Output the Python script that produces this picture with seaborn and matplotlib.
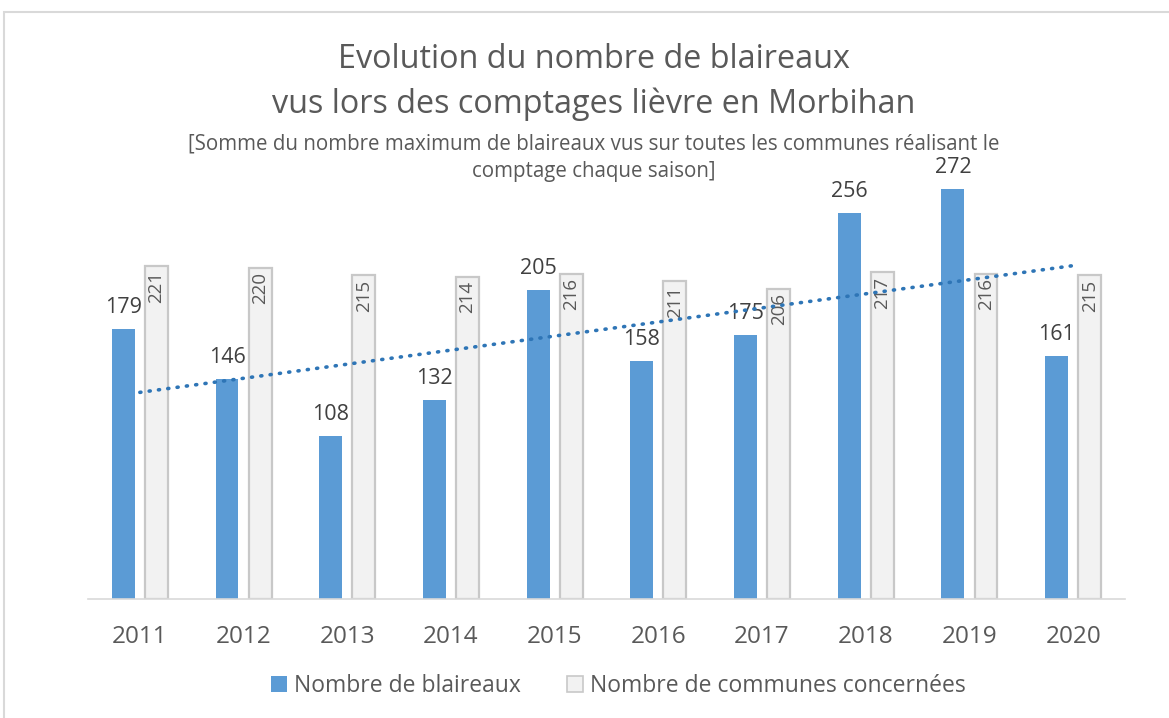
import numpy as np
import pandas as pd
import matplotlib
matplotlib.use("Agg")
import matplotlib.pyplot as plt
from matplotlib.patches import Rectangle, Patch
import seaborn as sns

years = ["2011", "2012", "2013", "2014", "2015", "2016", "2017", "2018", "2019", "2020"]
blaireaux = [179, 146, 108, 132, 205, 158, 175, 256, 272, 161]
communes = [221, 220, 215, 214, 216, 211, 206, 217, 216, 215]
series_names = ["Nombre de blaireaux", "Nombre de communes concernées"]

sns.set_theme(style="white")
plt.rcParams["font.family"] = ["Open Sans", "DejaVu Sans"]

df = pd.DataFrame({
    "annee": years * 2,
    "valeur": blaireaux + communes,
    "serie": [series_names[0]] * len(years) + [series_names[1]] * len(years),
})

BLUE = "#5B9BD5"
GREY = "#F2F2F2"
TXT = "#595959"

fig = plt.figure(figsize=(11.69, 7.18), dpi=100)
ax = fig.add_axes([88 / 1169, 119 / 718, 1037 / 1169, (599 - 147) / 718])

sns.barplot(data=df, x="annee", y="valeur", hue="serie", order=years,
            hue_order=series_names, palette=[BLUE, GREY], width=0.64, gap=0.31,
            saturation=1, legend=False, ax=ax)

blue_c, grey_c = ax.containers[0], ax.containers[1]
for p in blue_c:
    p.set_edgecolor("none")
for p in grey_c:
    p.set_edgecolor("#C8C8C8")
    p.set_linewidth(1.6)

ax.bar_label(blue_c, labels=[str(v) for v in blaireaux], padding=8,
             fontsize=15.5, color="#404040")
for p, v in zip(grey_c, communes):
    ax.text(p.get_x() + p.get_width() / 2, p.get_height() - 3, str(v),
            rotation=90, ha="center", va="top", fontsize=13.5, color=TXT)

# linear trendline on blaireaux series
xs = np.arange(len(years))
coef = np.polyfit(xs, blaireaux, 1)
ax.plot(xs, np.polyval(coef, xs), color="#2E75B6", lw=2.6,
        linestyle=(0, (0.3, 2.3)), dash_capstyle="round", zorder=5)

ax.set_ylim(0, 300)
ax.set_xlim(-0.5, len(years) - 0.5)
ax.set_xlabel("")
ax.set_ylabel("")
ax.set_yticks([])
for s in ["top", "left", "right"]:
    ax.spines[s].set_visible(False)
ax.spines["bottom"].set_color("#D9D9D9")
ax.spines["bottom"].set_linewidth(1.2)
ax.tick_params(axis="x", length=0, pad=19, labelsize=17.5, labelcolor=TXT)

fig.text(0.508, 0.917, "Evolution du nombre de blaireaux", ha="center", va="center",
         fontsize=23.3, color=TXT)
fig.text(0.508, 0.855, "vus lors des comptages lièvre en Morbihan", ha="center", va="center",
         fontsize=23.3, color=TXT)
fig.text(0.508, 0.800, "[Somme du nombre maximum de blaireaux vus sur toutes les communes réalisant le",
         ha="center", va="center", fontsize=14.8, color=TXT)
fig.text(0.508, 0.761, "comptage chaque saison]", ha="center", va="center",
         fontsize=14.8, color=TXT)

handles = [Patch(facecolor=BLUE, edgecolor="none"),
           Patch(facecolor=GREY, edgecolor="#C8C8C8", linewidth=1.2)]
fig.legend(handles, series_names, loc="center", bbox_to_anchor=(0.529, 0.045), ncol=2,
           frameon=False, fontsize=16.5, labelcolor=TXT, handlelength=0.7,
           handleheight=0.7, handletextpad=0.3, columnspacing=2.0)

fig.add_artist(Rectangle((4 / 1169, -0.1), 1.2, (718 - 12) / 718 + 0.1,
                         transform=fig.transFigure, fill=False,
                         edgecolor="#D9D9D9", lw=1.5))

fig.savefig("out.png", dpi=100)
